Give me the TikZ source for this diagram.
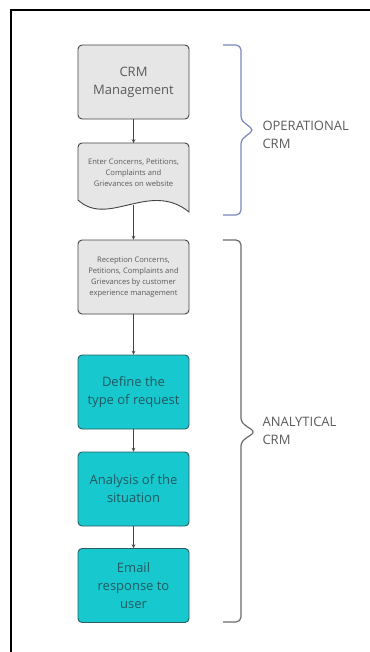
\documentclass[tikz,border=0pt]{standalone}
\usepackage{fontspec}
\setmainfont{Open Sans}
\usetikzlibrary{calc}
\definecolor{boxgrey}{HTML}{E6E6E6}
\definecolor{edge}{HTML}{444444}
\definecolor{inkgrey}{HTML}{5A5A5A}
\definecolor{teal}{HTML}{17C8CE}
\definecolor{tealedge}{HTML}{2A5E62}
\definecolor{tealink}{HTML}{1F5A60}
\definecolor{opbrace}{HTML}{7C84BE}
\definecolor{anbrace}{HTML}{6A6A6A}

\begin{document}
\begin{tikzpicture}[x=1pt,y=-1pt,>=stealth,
  box/.style={rounded corners=4pt,minimum width=111pt,minimum height=74pt,align=center,line width=0.9pt},
  greybox/.style={box,draw=edge,fill=boxgrey,text=inkgrey},
  tealbox/.style={box,draw=tealedge,fill=teal,text=tealink,font=\fontsize{13}{18}\selectfont},
  small/.style={font=\fontsize{7.6}{11}\selectfont},
  flow/.style={->,edge,line width=0.7pt},
  label/.style={anchor=west,align=left,text=inkgrey,font=\fontsize{13}{18}\selectfont}]
  \useasboundingbox (0,0) rectangle (369,652);
  % outer frame
  \draw[line width=2pt] (11,655) -- (11,10) -- (372,10);
  % operational part
  \node[greybox,font=\fontsize{13}{18}\selectfont] (mgmt) at (133.5,82) {CRM\\Management};
  \draw[edge,fill=boxgrey,line width=0.9pt] (78,200) -- (78,147) arc (180:270:4) -- (185,143) arc (270:360:4)
    -- (189,212) .. controls (150,180) and (108,228) .. (78,200) -- cycle;
  \node[small,text=inkgrey,align=center] (enter) at (133.5,172.5) {Enter Concerns, Petitions,\\Complaints and\\Grievances on website};
  \coordinate (wave) at (133.5,205.5);
  % analytical part
  \node[greybox,small] (recep) at (133.5,277) {Reception Concerns,\\Petitions, Complaints and\\Grievances by customer\\experience management};
  \node[tealbox] (define) at (133.5,392) {Define the\\type of request};
  \node[tealbox] (analysis) at (133.5,489) {Analysis of the\\situation};
  \node[tealbox] (email) at (133.5,585.5) {Email\\response to\\user};
  \draw[flow] (mgmt) -- (133.5,143);
  \draw[flow] (wave) -- (recep);
  \draw[flow] (recep) -- (define);
  \draw[flow] (define) -- (analysis);
  \draw[flow] (analysis) -- (email);
  % braces
  \draw[opbrace,line width=1.2pt] (223,45) -- (236,45) arc (-90:0:5) -- (241,116)
    .. controls (241,124) and (252,126) .. (252,130) .. controls (252,134) and (241,136) .. (241,144)
    -- (241,210) arc (0:90:5) -- (223,215);
  \node[label] (op) at (259,135) {OPERATIONAL\\CRM};
  \draw[anbrace,line width=1.2pt] (223,240) -- (236,240) arc (-90:0:5) -- (241,418)
    .. controls (241,426) and (253,428) .. (253,432) .. controls (253,436) and (241,438) .. (241,446)
    -- (241,617) arc (0:90:5) -- (223,622);
  \node[label] (an) at (259,431) {ANALYTICAL\\CRM};
\end{tikzpicture}
\end{document}
